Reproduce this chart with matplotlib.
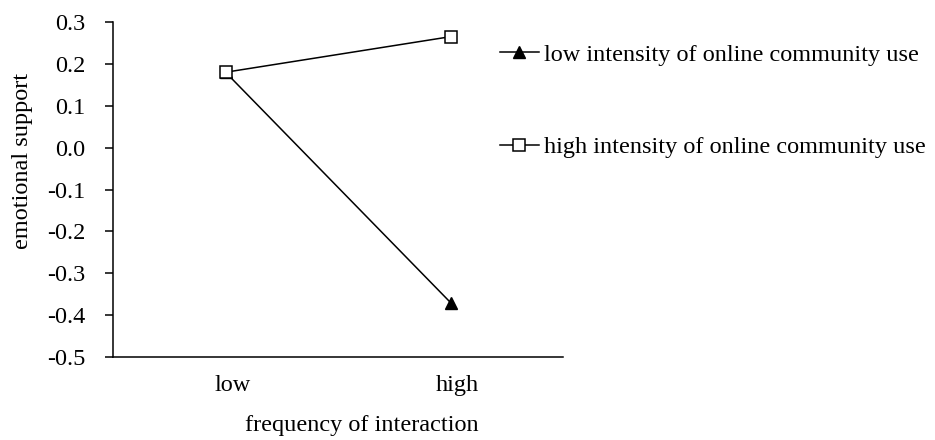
import matplotlib
matplotlib.use('Agg')
import matplotlib.pyplot as plt
import matplotlib.transforms as mtransforms
from matplotlib.ticker import FormatStrFormatter

# ─── DATA ───
categories = ['low', 'high']
low_intensity = [0.18, -0.37]
high_intensity = [0.18, 0.265]
series_labels = ['low intensity of online community use',
                 'high intensity of online community use']
y_ticks = [-0.5, -0.4, -0.3, -0.2, -0.1, 0.0, 0.1, 0.2, 0.3]

plt.rcParams['font.family'] = ['Liberation Serif', 'DejaVu Serif']
FS = 17.5

fig = plt.figure(figsize=(9.35, 4.4), dpi=100)
ax = fig.add_axes([0.1209, 0.1886, 0.4813, 0.7614])

x = list(range(len(categories)))
ax.plot(x, low_intensity, color='black', lw=1.1, marker='^', ms=9,
        mfc='black', mec='black', label=series_labels[0], zorder=3)
ax.plot(x, high_intensity, color='black', lw=1.1, marker='s', ms=9,
        mfc='white', mec='black', mew=1.1, label=series_labels[1], zorder=4)

ax.set_xlim(-0.5, 1.5)
ax.set_ylim(-0.5, 0.3)
ax.set_yticks(y_ticks)
ax.yaxis.set_major_formatter(FormatStrFormatter('%.1f'))
ax.set_xticks(x)
ax.set_xticklabels(categories)

for side in ['top', 'right']:
    ax.spines[side].set_visible(False)
for side in ['left', 'bottom']:
    ax.spines[side].set_linewidth(1.1)

ax.tick_params(axis='y', direction='out', length=6, width=1.1, pad=14, labelsize=FS)
ax.tick_params(axis='x', length=0, pad=13, labelsize=FS)

# category labels sit a little right of the points in the original
shift = mtransforms.ScaledTranslation(7 / 100, 0, fig.dpi_scale_trans)
for lbl in ax.get_xticklabels():
    lbl.set_transform(lbl.get_transform() + shift)

ax.set_xlabel('frequency of interaction', fontsize=FS)
ax.set_ylabel('emotional support', fontsize=FS)
ax.xaxis.set_label_coords(0.553, -0.174)
ax.yaxis.set_label_coords(-0.178, 0.585)

fig.legend(loc='upper left', bbox_to_anchor=(0.511, 0.95), frameon=False,
           fontsize=FS, handlelength=1.63, handletextpad=0.2, labelspacing=2.9,
           markerscale=0.9)

fig.savefig('out.png', dpi=100)
